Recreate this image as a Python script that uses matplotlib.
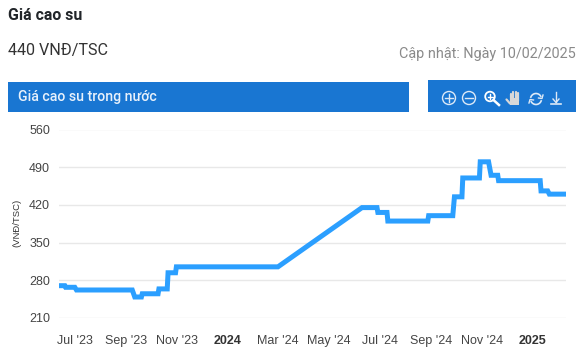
import matplotlib
matplotlib.use('Agg')
from matplotlib import pyplot as plt
from matplotlib.patches import Rectangle, Circle
import numpy as np
from datetime import datetime

dates = ['2023-06-12', '2023-06-19', '2023-06-20', '2023-07-01', '2023-07-03', '2023-09-08', '2023-09-11',
         '2023-09-19', '2023-09-20', '2023-10-09', '2023-10-10', '2023-10-20', '2023-10-21', '2023-10-30',
         '2023-10-31', '2024-03-01', '2024-06-10', '2024-06-28', '2024-06-29', '2024-07-10', '2024-07-11',
         '2024-08-28', '2024-08-29', '2024-09-27', '2024-09-29', '2024-10-08', '2024-10-09', '2024-10-29',
         '2024-10-30', '2024-11-09', '2024-11-12', '2024-11-20', '2024-11-21', '2025-01-10', '2025-01-11',
         '2025-01-19', '2025-01-21', '2025-02-10']
prices = [270, 270, 267, 267, 262, 262, 249,
          249, 255, 255, 264, 264, 294, 294,
          305, 305, 415, 415, 406, 406, 390,
          390, 400, 400, 435, 435, 470, 470,
          500, 500, 475, 475, 465, 465, 446,
          446, 440, 440]

y_ticks = [210, 280, 350, 420, 490, 560]
x_tick_dates = ['2023-07-01', '2023-09-01', '2023-11-01', '2024-01-01', '2024-03-01',
                '2024-05-01', '2024-07-01', '2024-09-01', '2024-11-01', '2025-01-01']
x_tick_labels = ["Jul '23", "Sep '23", "Nov '23", '2024', "Mar '24",
                 "May '24", "Jul '24", "Sep '24", "Nov '24", '2025']

W, H = 585, 360
BLUE = '#1976d2'

fig = plt.figure(figsize=(W / 100, H / 100), dpi=100, facecolor='white')

# overlay in pixel coords for the page header and the toolbar
page = fig.add_axes([0, 0, 1, 1])
page.set_xlim(0, W)
page.set_ylim(H, 0)
page.axis('off')

page.text(8, 16, 'Giá cao su', family='Roboto', fontsize=11.4, fontweight='bold', color='#212529', va='center')
page.text(8, 51, '440 VNĐ/TSC', family='Roboto', fontsize=11.6, color='#333333', va='center')
page.text(576, 54, 'Cập nhật: Ngày 10/02/2025', family='Roboto', fontsize=10.4, color='#8a8a8a', va='center', ha='right')

page.add_patch(Rectangle((8, 82), 401, 30, color=BLUE, lw=0))
page.add_patch(Rectangle((428, 80), 148, 32, color=BLUE, lw=0))
page.text(18, 97, 'Giá cao su trong nước', family='Roboto', fontsize=10.2, fontweight='medium', color='#e8f1fb', va='center')

# toolbar icons
ic = '#dce9f7'
page.add_patch(Circle((449, 98), 6.5, fill=False, ec=ic, lw=1))
page.plot([445, 453], [98, 98], color=ic, lw=1)
page.plot([449, 449], [94, 102], color=ic, lw=1)
page.add_patch(Circle((469, 98), 6.5, fill=False, ec=ic, lw=1))
page.plot([465, 473], [98, 98], color=ic, lw=1)
page.add_patch(Circle((490, 96.5), 4.8, fill=False, ec='white', lw=1.3))
page.plot([487.5, 492.5], [96.5, 96.5], color='white', lw=1)
page.plot([490, 490], [94, 99], color='white', lw=1)
page.plot([493.5, 499], [100, 105], color='white', lw=1.8)
# hand
for fx, top in zip([510.5, 513, 515.5, 518], [94, 91.5, 91.5, 93]):
    page.plot([fx, fx], [top, 101], color='#d8d8d8', lw=1.6, solid_capstyle='round')
page.add_patch(Rectangle((509.5, 98), 9.5, 6.5, color='#d8d8d8', lw=0))
page.plot([506.5, 510], [99.5, 103.5], color='#d8d8d8', lw=1.6, solid_capstyle='round')
# reset arrows
t = np.radians(np.arange(200, 340, 10))
page.plot(536 + 5.5 * np.cos(t), 99 + 5.5 * np.sin(t), color=ic, lw=1.2)
page.plot(536 - 5.5 * np.cos(t), 99 - 5.5 * np.sin(t), color=ic, lw=1.2)
page.plot([538.5, 542, 543], [98, 98.5, 95], color=ic, lw=1)
page.plot([533.5, 530, 529], [100, 99.5, 103], color=ic, lw=1)
# download
page.plot([556, 556], [92, 102], color=ic, lw=1)
page.plot([553, 556, 559], [99, 102.5, 99], color=ic, lw=1)
page.plot([551, 561], [104, 104], color=ic, lw=1.2)

# chart
ax = fig.add_axes([59 / W, 1 - 318 / H, (566 - 59) / W, (318 - 129.5) / H])
ax.patch.set_alpha(0)
x = [datetime.strptime(d, '%Y-%m-%d') for d in dates]
ax.plot(x, prices, color='#2b9fff', lw=3.6, solid_joinstyle='miter', solid_capstyle='butt', clip_on=False, zorder=3)

ax.set_xlim(x[0], x[-1])
ax.set_ylim(210, 560)
ax.set_yticks(y_ticks)
ax.set_xticks([datetime.strptime(d, '%Y-%m-%d') for d in x_tick_dates])
ax.set_xticklabels(x_tick_labels)
ax.grid(axis='y', color='#e8e8e8', lw=1.0)
ax.set_axisbelow(True)
for s in ax.spines.values():
    s.set_visible(False)
ax.tick_params(axis='both', length=0, labelsize=9, labelcolor='#444444')
ax.tick_params(axis='y', pad=6.5)
ax.tick_params(axis='x', pad=12.5)
for lb in ax.get_xticklabels() + ax.get_yticklabels():
    lb.set_family('Liberation Sans')
for lb in ax.get_xticklabels():
    if lb.get_text() in ('2024', '2025'):
        lb.set_fontweight('bold')
        lb.set_color('#333333')

page.text(17, 223, '(VNĐ/TSC)', family='Liberation Sans', fontsize=6.8, color='#333333',
          rotation=90, va='center', ha='center')

fig.savefig('out.png', dpi=100)
